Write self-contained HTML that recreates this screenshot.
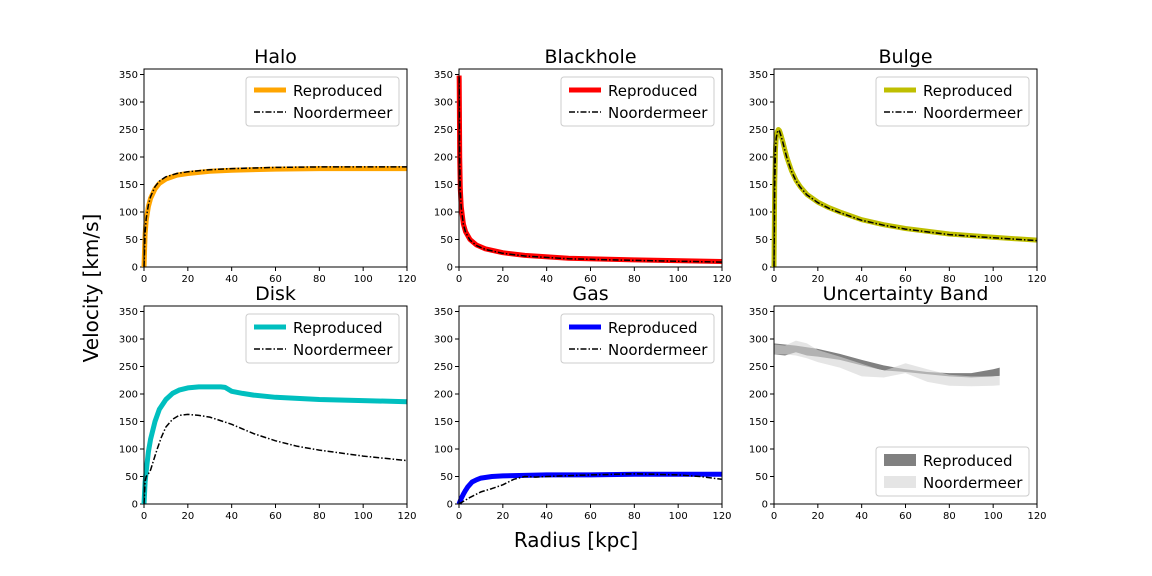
<!DOCTYPE html>
<html><head><meta charset="utf-8"><style>body{margin:0;background:#fff}svg{display:block;font-family:"DejaVu Sans","Liberation Sans",sans-serif}</style></head>
<body>
<svg id="c" width="1152" height="576"></svg>
<script>
const xTicks=[0,20,40,60,80,100,120];
const yTicks=[0,50,100,150,200,250,300,350];
const haloR=[0,0.5,1,2,3,5,7,10,15,20,30,40,60,80,100,120];
const haloRep=[0,60,85,110,125,142,152,160,167,170,174,176,178,179,179,179];
const haloNoor=[0,62,88,113,128,146,156,164,170,173,177,179,181,182,182,182];
const bhR=[0.05,0.1,0.3,0.6,1,2,3,5,8,12,20,30,50,80,120];
const bhRep=[348,340,200,142,110,78,64,50,40,33,26,21,16,13,10];
const bhNoor=[345,335,198,140,108,77,63,49,39,32,25,20,15,12,9];
const buR=[0,0.3,0.7,1,1.5,2,2.5,3,4,5,6,8,10,12,15,20,25,30,40,50,60,80,100,120];
const buRep=[0,150,215,235,246,250,248,242,228,212,198,175,158,146,132,118,108,100,86,77,70,60,54,49];
const buNoor=[0,148,213,234,245,249,247,241,227,211,197,174,157,145,131,117,107,99,85,76,69,59,53,48];
const diR=[0,0.5,1,2,3,5,7,10,13,16,20,25,30,35,37,40,45,50,60,80,100,120];
const diRep=[0,40,60,95,118,150,172,190,201,207,211,213,213,213,212,205,201,198,194,190,188,186];
const diNR=[0,0.5,1,2,3,4,6,8,10,13,16,20,25,30,40,50,60,70,80,100,120];
const diNoor=[0,40,50,55,62,75,100,122,140,154,161,163,161,158,145,128,115,105,98,87,79];
const gaR=[0,1,2,3,4,6,8,10,15,20,30,40,60,80,100,120];
const gaRep=[0,10,18,25,31,40,44,47,50,51,52,53,53,54,54,54];
const gaNR=[0,5,10,15,20,25,30,35,40,60,80,100,110,120];
const gaNoor=[0,12,22,28,35,45,50,49,50,53,55,53,50,45];
const bandR=[0,5,10,15,20,30,40,50,60,70,80,90,100,103];
const repUp=[292,290,288,285,282,273,262,252,245,240,238,238,245,248];
const repLo=[272,270,276,270,268,262,252,243,240,236,232,230,232,233];
const noUp=[290,288,297,292,280,268,255,242,256,245,235,232,232,233];
const noLo=[272,272,270,265,258,248,232,230,238,222,215,214,215,216];

const NS="http://www.w3.org/2000/svg",svg=document.getElementById('c');
function el(t,a,p){const e=document.createElementNS(NS,t);for(const k in a)e.setAttribute(k,a[k]);(p||svg).appendChild(e);return e;}
const cols=[144,459,774],rows=[69,306],W=263,H=198;
function panel(ci,ri,title,name){
 const x0=cols[ci],y0=rows[ri];
 const g=el('g',{});
 const sx=v=>x0+v/120*W, sy=v=>y0+H-v/360*H;
 xTicks.forEach(t=>{el('line',{x1:sx(t),x2:sx(t),y1:y0+H,y2:y0+H+4,stroke:'#000'},g);
  const tx=el('text',{x:sx(t),y:y0+H+15,'font-size':10,'text-anchor':'middle'},g);tx.textContent=t;
  });
 yTicks.forEach(t=>{el('line',{x1:x0-4,x2:x0,y1:sy(t),y2:sy(t),stroke:'#000'},g);
  const tx=el('text',{x:x0-6,y:sy(t)+3.5,'font-size':10,'text-anchor':'end'},g);tx.textContent=t;
  });
 const tt=el('text',{x:x0+W/2,y:y0-6,'font-size':19,'text-anchor':'middle'},g);tt.textContent=title;
 
 return {g,sx,sy,x0,y0};
}
function line(P,xs,ys,attrs,name){
 const d=xs.map((x,i)=>(i?'L':'M')+P.sx(x).toFixed(1)+','+P.sy(ys[i]).toFixed(1)).join('');
 const p=el('path',Object.assign({d,fill:'none','stroke-linejoin':'round'},attrs),P.g);
 
}
function band(P,xs,up,lo,attrs,name){
 let d=xs.map((x,i)=>(i?'L':'M')+P.sx(x).toFixed(1)+','+P.sy(up[i]).toFixed(1)).join('');
 for(let i=xs.length-1;i>=0;i--)d+='L'+P.sx(xs[i]).toFixed(1)+','+P.sy(lo[i]).toFixed(1);
 const p=el('path',Object.assign({d:d+'Z'},attrs),P.g);
 
}
function frame(P){el('rect',{x:P.x0,y:P.y0,width:W,height:H,fill:'none',stroke:'#000','stroke-width':1},P.g);}
function legend(P,color){
 const lx=P.x0+W-161,ly=P.y0+8;
 const g=el('g',{},P.g);
 el('rect',{x:lx,y:ly,width:153,height:49,rx:3,fill:'#fff',stroke:'#ccc'},g);
 el('line',{x1:lx+8,x2:lx+40,y1:ly+13,y2:ly+13,stroke:color,'stroke-width':5},g);
 el('line',{x1:lx+8,x2:lx+40,y1:ly+35,y2:ly+35,stroke:'#000','stroke-width':1.5,'stroke-dasharray':'6,2,1.5,2'},g);
 const a=el('text',{x:lx+47,y:ly+19,'font-size':15},g);a.textContent='Reproduced';
 
 const b=el('text',{x:lx+47,y:ly+41,'font-size':15},g);b.textContent='Noordermeer';
 
}
const dash={stroke:'#000','stroke-width':1.5,'stroke-dasharray':'6,2,1.5,2'};
function curvePanel(ci,ri,title,name,color,rx,rep,nx,noor){
 const P=panel(ci,ri,title,name);
 line(P,rx,rep,{stroke:color,'stroke-width':5},name+'-reproduced-line');
 line(P,nx,noor,dash,name+'-noordermeer-line');
 frame(P);legend(P,color);
}
curvePanel(0,0,'Halo','halo','#ffa500',haloR,haloRep,haloR,haloNoor);
curvePanel(1,0,'Blackhole','blackhole','#ff0000',bhR,bhRep,bhR,bhNoor);
curvePanel(2,0,'Bulge','bulge','#bfbf00',buR,buRep,buR,buNoor);
curvePanel(0,1,'Disk','disk','#00bfbf',diR,diRep,diNR,diNoor);
curvePanel(1,1,'Gas','gas','#0000ff',gaR,gaRep,gaNR,gaNoor);
const U=panel(2,1,'Uncertainty Band','uncertainty');
band(U,bandR,repUp,repLo,{fill:'#808080'},'reproduced-band');
band(U,bandR,noUp,noLo,{fill:'#d3d3d3','fill-opacity':0.6},'noordermeer-band');
frame(U);
(function(){const lx=U.x0+W-161,ly=U.y0+H-57;
 const g=el('g',{},U.g);
 el('rect',{x:lx,y:ly,width:153,height:49,rx:3,fill:'#fff',stroke:'#ccc'},g);
 el('rect',{x:lx+8,y:ly+7,width:32,height:12,fill:'#808080'},g);
 el('rect',{x:lx+8,y:ly+29,width:32,height:12,fill:'#e5e5e5'},g);
 const a=el('text',{x:lx+47,y:ly+19,'font-size':15},g);a.textContent='Reproduced';
 
 const b=el('text',{x:lx+47,y:ly+41,'font-size':15},g);b.textContent='Noordermeer';
 })();
const xl=el('text',{x:576,y:547,'font-size':20,'text-anchor':'middle'});xl.textContent='Radius [kpc]';

const yl=el('text',{x:98,y:288,'font-size':20,'text-anchor':'middle',transform:'rotate(-90 98 288)'});yl.textContent='Velocity [km/s]';

</script>
</body></html>
